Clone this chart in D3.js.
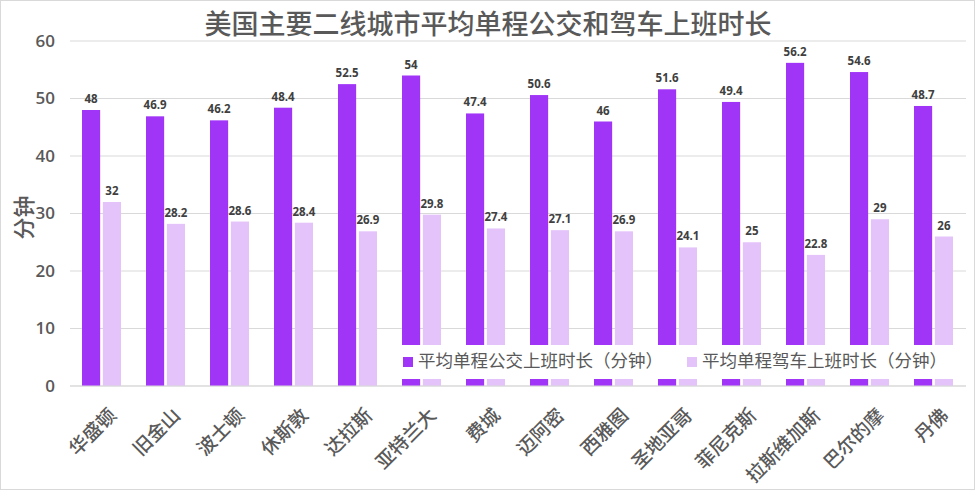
<!DOCTYPE html>
<html><head><meta charset="utf-8">
<script src="https://cdn.jsdelivr.net/npm/d3@7"></script>
<style>
html,body{margin:0;padding:0;background:#fff;}
svg{display:block;}
text{font-family:"Noto Sans CJK SC","Noto Sans",sans-serif;}
</style></head>
<body>
<svg id="chart" width="975" height="490"></svg>
<script>
const title = "美国主要二线城市平均单程公交和驾车上班时长";
const cities = ["华盛顿","旧金山","波士顿","休斯敦","达拉斯","亚特兰大","费城","迈阿密","西雅图","圣地亚哥","菲尼克斯","拉斯维加斯","巴尔的摩","丹佛"];
const transit = [48,46.9,46.2,48.4,52.5,54,47.4,50.6,46,51.6,49.4,56.2,54.6,48.7];
const driving = [32,28.2,28.6,28.4,26.9,29.8,27.4,27.1,26.9,24.1,25,22.8,29,26];
const seriesNames = ["平均单程公交上班时长（分钟）","平均单程驾车上班时长（分钟）"];
const yTicks = [0,10,20,30,40,50,60];
const yLabel = "分钟";
const colors = ["#a035f7","#e4c3fb"];

const svg = d3.select("#chart");
const W = 975, H = 490;
const m = {left:70, right:9, top:41, bottom:104};

svg.append("rect").attr("x",0.5).attr("y",0.5).attr("width",W-1).attr("height",H-1)
  .attr("fill","#fff").attr("stroke","#d9d9d9");

const x = d3.scaleBand().domain(cities).range([m.left, W-m.right]).paddingInner(0).paddingOuter(0);
const y = d3.scaleLinear().domain([0,60]).range([H-m.bottom, m.top]);
const inner = d3.scaleBand().domain([0,1]).range([12, x.bandwidth()-13]).paddingInner(0.13);

// gridlines
svg.append("g").selectAll("line").data(yTicks).join("line")
  .attr("x1",m.left).attr("x2",W-m.right)
  .attr("y1",d=>y(d)).attr("y2",d=>y(d))
  .attr("stroke","#d9d9d9").attr("stroke-width",1);

// y axis labels
const yAxis = d3.axisLeft(y).tickValues(yTicks).tickSize(0).tickPadding(15);
const ya = svg.append("g").attr("transform",`translate(${m.left},0)`).call(yAxis);
ya.select(".domain").remove();
ya.selectAll("text").attr("font-size",17).attr("font-weight",600).attr("fill","#595959")
  .style("font-family","'Open Sans','Noto Sans',sans-serif");

svg.append("text").attr("transform",`translate(26,${(m.top+H-m.bottom)/2+4}) rotate(-90)`)
  .attr("text-anchor","middle").attr("dominant-baseline","middle")
  .attr("font-size",22).attr("font-weight",500).attr("fill","#595959").text(yLabel);

// bars
const series = [transit, driving];
series.forEach((vals, si) => {
  const g = svg.append("g");
  g.selectAll("rect").data(vals).join("rect")
    .attr("x",(d,i)=>x(cities[i])+inner(si))
    .attr("width",inner.bandwidth())
    .attr("y",d=>y(d)).attr("height",d=>y(0)-y(d))
    .attr("fill",colors[si]);
  g.selectAll("text").data(vals).join("text")
    .attr("x",(d,i)=>x(cities[i])+inner(si)+inner.bandwidth()/2)
    .attr("y",d=>y(d)-7)
    .attr("text-anchor","middle")
    .attr("font-size",11.5).attr("font-weight",700).attr("fill","#404040")
    .style("font-family","'Open Sans','Noto Sans',sans-serif")
    .text(d=>d);
});

// axis baseline
svg.append("line").attr("x1",m.left).attr("x2",W-m.right).attr("y1",y(0)).attr("y2",y(0))
  .attr("stroke","#d9d9d9");

// x labels
const xAxis = d3.axisBottom(x).tickSize(0);
const xa = svg.append("g").attr("transform",`translate(0,${y(0)})`).call(xAxis);
xa.select(".domain").remove();
xa.selectAll("text")
  .attr("font-size",19).attr("font-weight",500).attr("fill","#595959")
  .attr("text-anchor","end").attr("dy",0).attr("y",0)
  .attr("transform","translate(3,18) rotate(-45)")
  .attr("dominant-baseline","hanging");

// title
svg.append("text").attr("x",488).attr("y",27).attr("text-anchor","middle")
  .attr("dominant-baseline","middle").attr("font-size",27).attr("font-weight",500).attr("fill","#595959").text(title);

// legend
const lg = svg.append("g");
lg.append("rect").attr("x",392).attr("y",345).attr("width",571).attr("height",34).attr("fill","#fff");
const legX = [403, 687];
seriesNames.forEach((n,i)=>{
  lg.append("rect").attr("x",legX[i]).attr("y",357).attr("width",10).attr("height",10).attr("fill",colors[i]);
  lg.append("text").attr("x",legX[i]+15).attr("y",362).attr("dominant-baseline","middle")
    .attr("font-size",17.5).attr("fill","#595959").text(n);
});
</script>
</body></html>
